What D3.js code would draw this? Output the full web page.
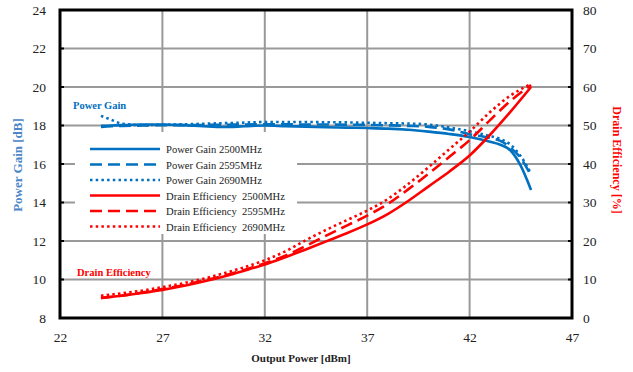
<!DOCTYPE html>
<html>
<head>
<meta charset="utf-8">
<script src="https://cdn.jsdelivr.net/npm/d3@7"></script>
<style>
  body { margin: 0; background: #fff; }
  svg { font-family: "Liberation Serif", "Times New Roman", serif; }
</style>
</head>
<body>
<svg></svg>
<script>
// ----- Data ----- //
var gainPower = [24, 24.5, 25, 26, 27, 28, 29, 30, 31, 32, 33, 34, 35, 36, 37, 38, 39, 40, 41, 42, 43, 43.5, 44, 44.5, 45];
var gain2500 = [17.98, 18.0, 18.02, 18.05, 18.05, 18.02, 17.96, 17.92, 17.96, 18.0, 17.97, 17.94, 17.91, 17.89, 17.87, 17.84, 17.78, 17.68, 17.56, 17.4, 17.15, 17.0, 16.7, 15.9, 14.65];
var gain2595 = [17.92, 17.96, 17.98, 18.0, 18.02, 18.02, 18.03, 18.04, 18.05, 18.06, 18.06, 18.05, 18.05, 18.04, 18.03, 18.01, 17.98, 17.93, 17.8, 17.55, 17.35, 17.2, 16.85, 16.3, 15.4];
var gain2690 = [18.5, 18.3, 18.1, 18.02, 18.04, 18.06, 18.09, 18.12, 18.15, 18.18, 18.18, 18.18, 18.17, 18.16, 18.14, 18.12, 18.1, 18.05, 17.9, 17.7, 17.45, 17.3, 17.0, 16.4, 15.5];

var effPower = [24, 25, 26, 27, 28, 29, 30, 31, 32, 33, 34, 35, 36, 37, 38, 39, 40, 41, 42, 43, 44, 45];
var eff2500 = [5.2, 5.8, 6.5, 7.3, 8.3, 9.5, 10.8, 12.3, 13.9, 15.8, 17.8, 19.9, 22.0, 24.3, 27.0, 30.4, 34.2, 38.0, 42.2, 47.6, 53.6, 60.0];
var eff2595 = [5.2, 5.8, 6.6, 7.5, 8.5, 9.7, 11.0, 12.5, 14.2, 16.2, 18.7, 21.4, 24.0, 26.6, 29.6, 33.4, 37.5, 41.8, 46.2, 51.4, 56.4, 60.5];
var eff2690 = [5.8, 6.4, 7.1, 8.0, 9.0, 10.2, 11.6, 13.2, 15.0, 17.3, 20.2, 22.9, 25.4, 27.9, 30.9, 34.8, 39.2, 43.8, 48.4, 53.5, 57.8, 60.8];

var xTicks = [22, 27, 32, 37, 42, 47];
var gainTicks = [8, 10, 12, 14, 16, 18, 20, 22, 24];
var effTicks = [0, 10, 20, 30, 40, 50, 60, 70, 80];

var legendLabels = ["Power Gain 2500MHz", "Power Gain 2595MHz", "Power Gain 2690MHz",
  "Drain Efficiency  2500MHz", "Drain Efficiency  2595MHz", "Drain Efficiency  2690MHz"];

// ----- Layout ----- //
var svgWidth = 633, svgHeight = 372;
var margin = {top: 10, right: 61, bottom: 54, left: 60};
var width = svgWidth - margin.left - margin.right;
var height = svgHeight - margin.top - margin.bottom;
var blue = "#0070C0", red = "#FF0000";
var dashes = {solid: null, dash: "12,6", dot: "2.5,3.2"};

var svg = d3.select("svg").attr("width", svgWidth).attr("height", svgHeight);
var g = svg.append("g").attr("transform", translate(margin.left, margin.top));

var x = d3.scaleLinear().domain([22, 47]).range([0, width]);
var yGain = d3.scaleLinear().domain([8, 24]).range([height, 0]);
var yEff = d3.scaleLinear().domain([0, 80]).range([height, 0]);

// ----- Grid ----- //
g.selectAll(".hgrid").data(gainTicks.slice(1, -1)).enter().append("line")
  .attr("x1", 0).attr("x2", width)
  .attr("y1", function(d) { return yGain(d); }).attr("y2", function(d) { return yGain(d); })
  .attr("stroke", "#999").attr("stroke-width", 2);
g.selectAll(".vgrid").data(xTicks.slice(1, -1)).enter().append("line")
  .attr("y1", 0).attr("y2", height)
  .attr("x1", function(d) { return x(d); }).attr("x2", function(d) { return x(d); })
  .attr("stroke", "#999").attr("stroke-width", 2);

// small black ticks on the frame
g.selectAll(".rtick").data(gainTicks.slice(1, -1)).enter().append("line")
  .attr("x1", width - 4).attr("x2", width)
  .attr("y1", function(d) { return yGain(d); }).attr("y2", function(d) { return yGain(d); })
  .attr("stroke", "#000").attr("stroke-width", 2);
g.selectAll(".ltick").data(gainTicks.slice(1, -1)).enter().append("line")
  .attr("x1", 0).attr("x2", 4)
  .attr("y1", function(d) { return yGain(d); }).attr("y2", function(d) { return yGain(d); })
  .attr("stroke", "#000").attr("stroke-width", 2);

// ----- Legend box (covers grid) ----- //
g.append("rect").attr("x", 15).attr("y", 122).attr("width", 222).attr("height", 102).attr("fill", "#fff");

// ----- Curves ----- //
function drawLine(px, vals, yScale, color, dash) {
  var pts = px.map(function(p, i) { return [p, vals[i]]; });
  var line = d3.line()
    .x(function(d) { return x(d[0]); })
    .y(function(d) { return yScale(d[1]); })
    .curve(d3.curveMonotoneX);
  g.append("path").datum(pts)
    .attr("d", line)
    .attr("fill", "none")
    .attr("stroke", color)
    .attr("stroke-width", 2.6)
    .attr("stroke-dasharray", dash);
}

drawLine(gainPower, gain2500, yGain, blue, dashes.solid);
drawLine(gainPower, gain2595, yGain, blue, dashes.dash);
drawLine(gainPower, gain2690, yGain, blue, dashes.dot);
drawLine(effPower, eff2500, yEff, red, dashes.solid);
drawLine(effPower, eff2595, yEff, red, dashes.dash);
drawLine(effPower, eff2690, yEff, red, dashes.dot);

// ----- Frame ----- //
g.append("rect").attr("width", width).attr("height", height)
  .attr("fill", "none").attr("stroke", "#000").attr("stroke-width", 3);

// ----- Axes (labels only) ----- //
var axB = g.append("g").attr("transform", translate(0, height + 8))
  .call(d3.axisBottom(x).tickValues(xTicks).tickSize(0).tickPadding(6));
var axL = g.append("g").attr("transform", translate(-14, 0))
  .call(d3.axisLeft(yGain).tickValues(gainTicks).tickSize(0).tickPadding(0));
var axR = g.append("g").attr("transform", translate(width + 11, 0))
  .call(d3.axisRight(yEff).tickValues(effTicks).tickSize(0).tickPadding(0));
[axB, axL, axR].forEach(function(a) {
  a.select(".domain").remove();
  a.selectAll("text").attr("font-family", "Liberation Serif, Times New Roman, serif")
    .attr("font-size", 13.5).attr("fill", "#222");
});

// ----- Legend ----- //
var legendStyles = [
  [blue, dashes.solid], [blue, dashes.dash], [blue, dashes.dot],
  [red, dashes.solid], [red, dashes.dash], [red, dashes.dot]
];
var leg = g.selectAll(".leg").data(legendLabels).enter().append("g")
  .attr("transform", function(d, i) { return translate(30, 139 + i * 15.5); });
leg.append("line").attr("x1", 0).attr("x2", 70).attr("y1", 0).attr("y2", 0)
  .attr("stroke", function(d, i) { return legendStyles[i][0]; })
  .attr("stroke-width", 2.6)
  .attr("stroke-dasharray", function(d, i) { return legendStyles[i][1]; });
leg.append("text").attr("x", 76).attr("y", 4)
  .attr("font-size", 10.6).attr("fill", "#222")
  .style("white-space", "pre")
  .text(function(d) { return d; });

// ----- Annotations ----- //
g.append("text").attr("x", 13).attr("y", 99).attr("font-size", 10.5)
  .attr("font-weight", "bold").attr("fill", blue).text("Power Gain");
g.append("text").attr("x", 17).attr("y", 266).attr("font-size", 10.5)
  .attr("font-weight", "bold").attr("fill", red).text("Drain Efficiency");

// ----- Axis titles ----- //
svg.append("text").attr("x", 301).attr("y", 362).attr("text-anchor", "middle")
  .attr("font-size", 11).attr("font-weight", "bold").attr("fill", "#222")
  .text("Output Power [dBm]");
svg.append("text").attr("transform", "translate(22,165) rotate(-90)")
  .attr("text-anchor", "middle").attr("font-size", 13).attr("font-weight", "bold")
  .attr("fill", "#4a86c8").text("Power Gain [dB]");
svg.append("text").attr("transform", "translate(613,160) rotate(90)")
  .attr("text-anchor", "middle").attr("font-size", 12).attr("font-weight", "bold")
  .attr("fill", red).text("Drain Efficiency [%]");

function translate(x, y) {
  return "translate(" + x + "," + y + ")";
}
</script>
</body>
</html>
